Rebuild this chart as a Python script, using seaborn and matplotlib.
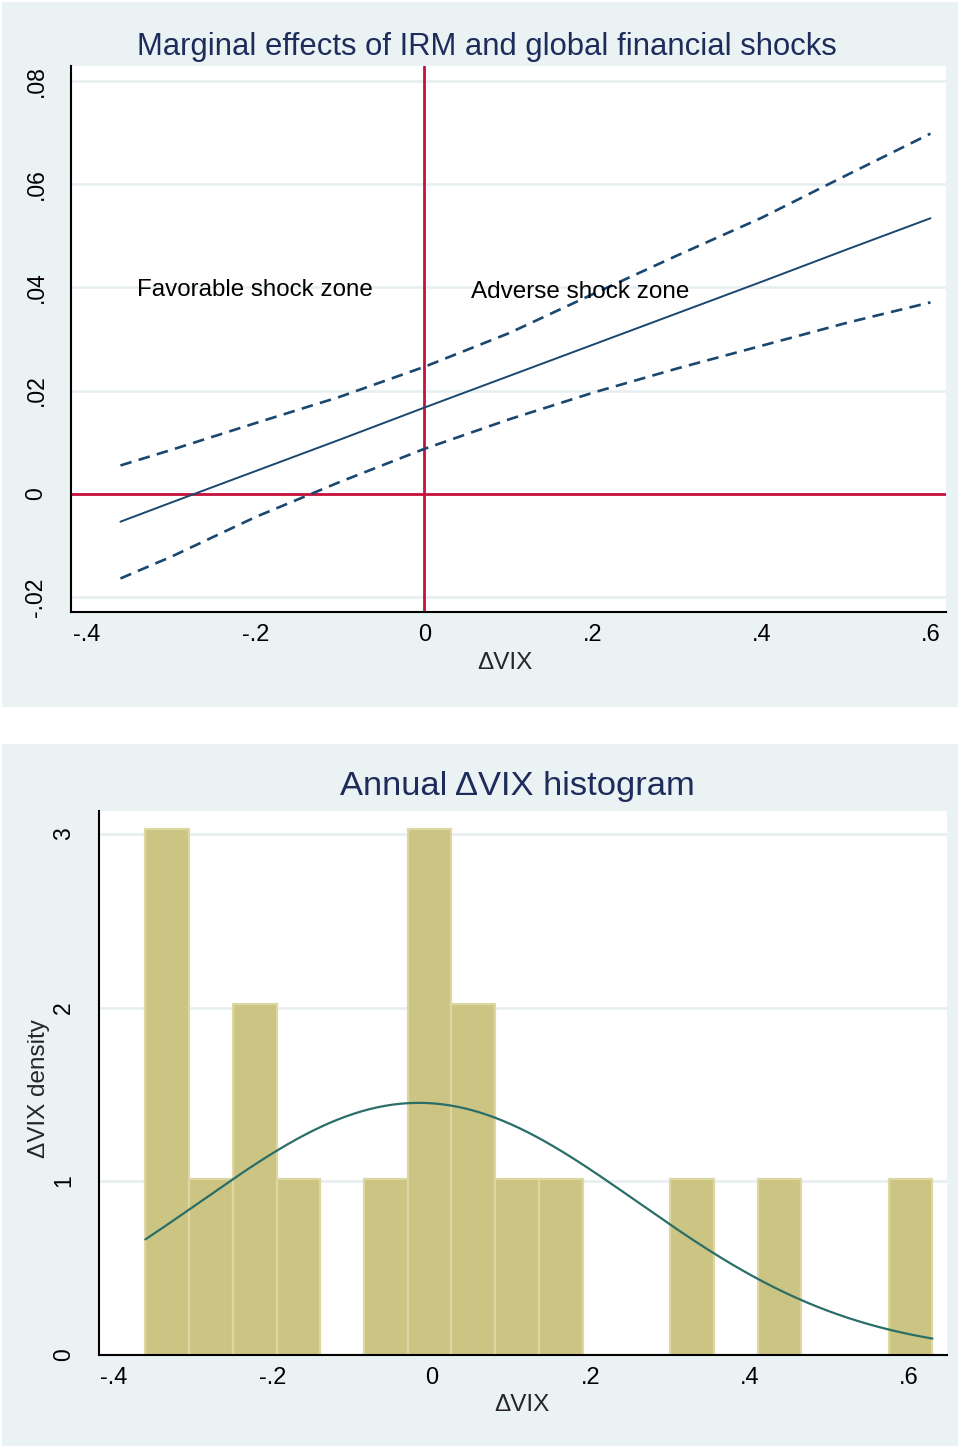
import numpy as np
import pandas as pd
import matplotlib
matplotlib.use("Agg")
import matplotlib.pyplot as plt
from matplotlib.patches import Rectangle
import seaborn as sns

# ---- data -------------------------------------------------------------
# Marginal effect of IRM over annual changes in VIX, with 95% confidence band
vix_grid = [-0.36, -0.30, -0.20, -0.10, 0.00, 0.10, 0.20, 0.30, 0.40, 0.50, 0.60]
me_point = [-0.0054, -0.0017, 0.0044, 0.0105, 0.0167, 0.0228, 0.0289, 0.0350, 0.0411, 0.0473, 0.0534]
me_upper = [0.0055, 0.0085, 0.0137, 0.0188, 0.0246, 0.0311, 0.0387, 0.0462, 0.0535, 0.0617, 0.0698]
me_lower = [-0.0164, -0.0122, -0.0045, 0.0023, 0.0087, 0.0144, 0.0196, 0.0243, 0.0287, 0.0331, 0.0371]

# Annual ΔVIX observations
delta_vix = [-0.36, -0.35, -0.32, -0.29, -0.23, -0.21, -0.17, -0.06, -0.02,
             0.00, -0.01, 0.04, 0.06, 0.10, 0.15, 0.32, 0.43, 0.63]

x_ticks = [-0.4, -0.2, 0.0, 0.2, 0.4, 0.6]
x_tick_labels = ["-.4", "-.2", "0", ".2", ".4", ".6"]
me_y_ticks = [-0.02, 0.0, 0.02, 0.04, 0.06, 0.08]
me_y_tick_labels = ["-.02", "0", ".02", ".04", ".06", ".08"]
hist_y_ticks = [0, 1, 2, 3]
hist_y_tick_labels = ["0", "1", "2", "3"]

# ---- style ------------------------------------------------------------
sns.set_style("white")
plt.rcParams["font.family"] = ["Liberation Sans", "DejaVu Sans"]

PANEL_BG = "#EAF2F3"
GRID = "#E6EEF0"
NAVY = "#1A476F"
RED = "#C8103C"
TITLE = "#1E2C5C"
KHAKI = "#CCC482"
KHAKI_EDGE = "#DCD7A3"
TEAL = "#2A6E68"

W, H = 958, 1446
fig = plt.figure(figsize=(W / 100, H / 100), dpi=100, facecolor="white")

# light panel backgrounds behind each graph
fig.patches.append(Rectangle((2 / W, 1 - 707 / H), 956 / W, 705 / H,
                             transform=fig.transFigure, facecolor=PANEL_BG,
                             edgecolor="none", zorder=-10))
fig.patches.append(Rectangle((2 / W, 0), 956 / W, (H - 744) / H,
                             transform=fig.transFigure, facecolor=PANEL_BG,
                             edgecolor="none", zorder=-10))


def style_axes(ax, ylabel_pad):
    ax.set_facecolor("white")
    for side in ("top", "right"):
        ax.spines[side].set_visible(False)
    for side in ("left", "bottom"):
        ax.spines[side].set_color("black")
        ax.spines[side].set_linewidth(1.5)
    ax.set_axisbelow(True)
    ax.yaxis.grid(True, color=GRID, lw=1.8)
    ax.xaxis.grid(False)
    ax.tick_params(axis="both", direction="out", length=7, width=1.5,
                   color="black", labelcolor="black")
    ax.tick_params(axis="x", labelsize=17, pad=2)
    ax.tick_params(axis="y", labelsize=16.5, pad=ylabel_pad, labelrotation=90)
    for lab in ax.get_yticklabels():
        lab.set_verticalalignment("center")


# ---- top: marginal effects --------------------------------------------
ax1 = fig.add_axes([71 / W, 1 - 611.5 / H, 875 / W, 545.5 / H])
df_me = pd.DataFrame({"vix": vix_grid, "point": me_point,
                      "upper": me_upper, "lower": me_lower})

ax1.axhline(0, color=RED, lw=2.0, zorder=1.5)
ax1.axvline(0, color=RED, lw=2.0, zorder=1.5)
sns.lineplot(data=df_me, x="vix", y="upper", ax=ax1, color=NAVY, lw=1.9,
             linestyle=(0, (4.4, 2.8)), zorder=3)
sns.lineplot(data=df_me, x="vix", y="lower", ax=ax1, color=NAVY, lw=1.9,
             linestyle=(0, (4.4, 2.8)), zorder=3)
sns.lineplot(data=df_me, x="vix", y="point", ax=ax1, color=NAVY, lw=1.4, zorder=3)

ax1.set_xlim(-0.4186, 0.6184)
ax1.set_ylim(-0.0228, 0.0829)
ax1.set_xticks(x_ticks)
ax1.set_xticklabels(x_tick_labels)
ax1.set_yticks(me_y_ticks)
ax1.set_yticklabels(me_y_tick_labels)
style_axes(ax1, 10)
ax1.set_xlabel("ΔVIX", fontsize=17.5, va="baseline")
ax1.xaxis.set_label_coords(0.496, -0.106)
ax1.set_ylabel("")

ax1.text(-0.34, 0.0383, "Favorable shock zone", fontsize=17.4, color="black",
         ha="left", va="baseline")
ax1.text(0.055, 0.0379, "Adverse shock zone", fontsize=17.5, color="black",
         ha="left", va="baseline")

fig.text(486.5 / W, 1 - 55 / H, "Marginal effects of IRM and global financial shocks",
         fontsize=22.3, color=TITLE, ha="center", va="baseline")

# ---- bottom: histogram of annual ΔVIX ---------------------------------
ax2 = fig.add_axes([98.5 / W, 1 - 1354.5 / H, 848.2 / W, 543.5 / H])
sns.histplot(x=delta_vix, bins=18, stat="density", ax=ax2, color=KHAKI,
             edgecolor=KHAKI_EDGE, linewidth=1.6, alpha=1.0, zorder=2)

mu = np.mean(delta_vix)
sd = np.std(delta_vix, ddof=1)
curve_x = np.linspace(min(delta_vix), max(delta_vix), 300)
curve_y = np.exp(-0.5 * ((curve_x - mu) / sd) ** 2) / (sd * np.sqrt(2 * np.pi))
sns.lineplot(x=curve_x, y=curve_y, ax=ax2, color=TEAL, lw=1.6, zorder=3)

ax2.set_xlim(-0.419, 0.648)
ax2.set_ylim(0, 3.133)
ax2.set_xticks(x_ticks)
ax2.set_xticklabels(x_tick_labels)
ax2.set_yticks(hist_y_ticks)
ax2.set_yticklabels(hist_y_tick_labels)
style_axes(ax2, 10)
ax2.set_xlabel("ΔVIX", fontsize=17.5, va="baseline")
ax2.xaxis.set_label_coords(0.499, -0.1034)
ax2.set_ylabel("ΔVIX density", fontsize=17.5, va="baseline")
ax2.yaxis.set_label_coords(-0.0631, 0.4885)

fig.text(517 / W, 1 - 795 / H, "Annual ΔVIX histogram",
         fontsize=24.8, color=TITLE, ha="center", va="baseline")

fig.savefig("out.png", dpi=100, facecolor="white")
